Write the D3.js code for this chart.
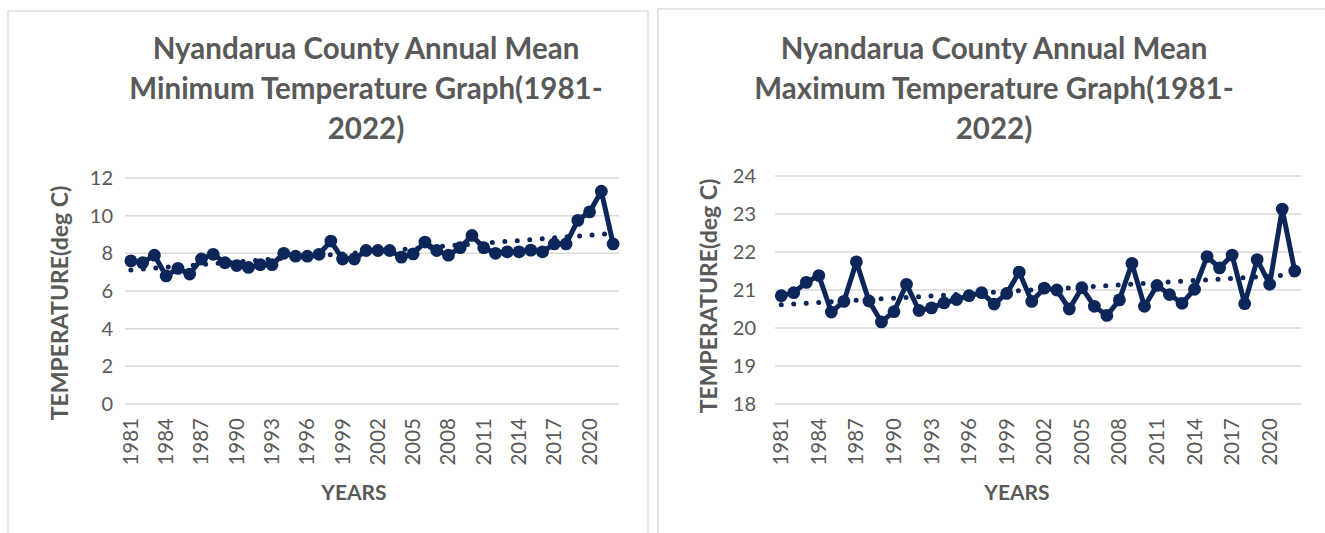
<!DOCTYPE html>
<html><head><meta charset="utf-8">
<script src="https://cdn.jsdelivr.net/npm/d3@7"></script>
<style>
html,body{margin:0;padding:0;background:#fff;}
svg{display:block;font-family:Lato, "Open Sans", sans-serif;}
</style></head>
<body>
<svg id="chart" width="1325" height="533"></svg>
<script>
const years = d3.range(1981, 2023);
const tickYears = [1981,1984,1987,1990,1993,1996,1999,2002,2005,2008,2011,2014,2017,2020];
const minTemp = [7.6,7.5,7.9,6.8,7.2,6.9,7.7,7.95,7.5,7.35,7.25,7.4,7.4,8.0,7.85,7.85,7.95,8.65,7.7,7.7,8.15,8.15,8.15,7.8,7.97,8.6,8.15,7.9,8.3,8.95,8.3,8.0,8.08,8.08,8.17,8.08,8.5,8.5,9.75,10.2,11.3,8.5];
const maxTemp = [20.85,20.93,21.2,21.38,20.42,20.7,21.74,20.71,20.16,20.43,21.15,20.46,20.53,20.66,20.75,20.85,20.93,20.63,20.91,21.47,20.7,21.05,21.0,20.5,21.06,20.57,20.33,20.74,21.7,20.57,21.12,20.88,20.65,21.02,21.88,21.58,21.92,20.64,21.8,21.15,23.13,21.5];
const minTicks = [0,2,4,6,8,10,12];
const maxTicks = [18,19,20,21,22,23,24];

const navy = "#0d2659", grey = "#595959", grid = "#d9d9d9";
const svg = d3.select("#chart");

function trend(vals){
  const n = vals.length, xs = d3.range(n);
  const mx = d3.mean(xs), my = d3.mean(vals);
  const b = d3.sum(xs, (x,i)=>(x-mx)*(vals[i]-my)) / d3.sum(xs, x=>(x-mx)*(x-mx));
  const a = my - b*mx;
  return xs.map(x => a + b*x);
}

function panel(cfg){
  const g = svg.append("g");
  g.append("rect").attr("x", cfg.box[0]).attr("y", cfg.box[1]).attr("width", cfg.box[2]).attr("height", cfg.box[3])
    .attr("fill","#fff").attr("stroke", grid).attr("stroke-width",1.3);
  const x = d3.scaleBand().domain(years).range(cfg.xr).padding(0);
  const y = d3.scaleLinear().domain(cfg.yd).range(cfg.yr);
  const cx = d => x(d) + x.bandwidth()/2;
  g.selectAll("line.grid").data(cfg.ticks).join("line")
    .attr("x1", cfg.xr[0]).attr("x2", cfg.xr[1]).attr("y1", d=>y(d)).attr("y2", d=>y(d))
    .attr("stroke", grid).attr("stroke-width", 1.5);
  g.selectAll("text.yt").data(cfg.ticks).join("text")
    .attr("x", cfg.ylabX).attr("y", d=>y(d)).attr("dy","0.35em").attr("text-anchor","end")
    .attr("fill", grey).attr("font-size", 20).text(d=>d);
  g.selectAll("text.xt").data(tickYears).join("text")
    .attr("transform", d=>`translate(${cx(d)+7},${cfg.xlabY}) rotate(-90)`)
    .attr("text-anchor","end").attr("fill", grey).attr("font-size", 20.5).text(d=>d);
  const line = d3.line().x((d,i)=>cx(years[i])).y(d=>y(d));
  g.append("path").datum(cfg.vals).attr("d", line).attr("fill","none")
    .attr("stroke", navy).attr("stroke-width", 5).attr("stroke-linejoin","round");
  g.selectAll("circle.pt").data(cfg.vals).join("circle")
    .attr("cx",(d,i)=>cx(years[i])).attr("cy", d=>y(d)).attr("r", 6.4).attr("fill", navy);
  g.append("path").datum(trend(cfg.vals)).attr("d", line).attr("fill","none")
    .attr("stroke", navy).attr("stroke-width", 5).attr("stroke-linecap","round")
    .attr("stroke-dasharray","0 12.5");
  cfg.title.forEach((t,i)=>{
    g.append("text").attr("x", cfg.titleX).attr("y", 59 + i*40).attr("text-anchor","middle")
      .attr("fill", grey).attr("font-size", 29.5).attr("font-weight","bold").text(t);
  });
  g.append("text").attr("transform",`translate(${cfg.ytitle[0]},${cfg.ytitle[1]}) rotate(-90)`)
    .attr("text-anchor","middle").attr("fill", grey).attr("font-size", 23).attr("font-weight","bold")
    .attr("dy","0.35em").text("TEMPERATURE(deg C)");
  g.append("text").attr("x", cfg.xtitle[0]).attr("y", cfg.xtitle[1]).attr("dy","0.35em")
    .attr("text-anchor","middle").attr("fill", grey).attr("font-size", 21).attr("font-weight","bold").text("YEARS");
}

panel({box:[8,11,640,540], xr:[125,619], yd:[0,12], yr:[404,178], ticks:minTicks, vals:minTemp,
  ylabX:113, xlabY:418, titleX:366,
  title:["Nyandarua County Annual Mean","Minimum Temperature Graph(1981-","2022)"],
  ytitle:[60,303], xtitle:[354,493]});
panel({box:[658,9,700,540], xr:[775,1301], yd:[18,24], yr:[404,176], ticks:maxTicks, vals:maxTemp,
  ylabX:756, xlabY:418, titleX:994,
  title:["Nyandarua County Annual Mean","Maximum Temperature Graph(1981-","2022)"],
  ytitle:[709,296], xtitle:[1017,493]});
</script>
</body></html>
